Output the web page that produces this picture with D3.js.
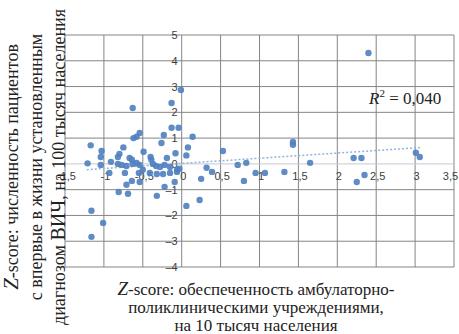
<!DOCTYPE html>
<meta charset="utf-8">
<style>
body { margin: 0; background: #fff; }
svg { display: block; }
.tick text { font-family: "Liberation Sans", sans-serif; font-size: 11px; fill: #404040; }
.title { font-family: "Liberation Serif", serif; font-size: 18px; fill: #222; }
</style>
<svg width="459" height="334"></svg>
<script src="https://d3js.org/d3.v7.min.js"></script>
<script>

// points: [x, y]
var points = [
  [2.4, 4.3], [-0.01, 2.87], [-0.13, 2.36], [-0.63, 2.17],
  [-0.13, 1.40], [-0.04, 1.40], [-0.54, 1.2], [-0.58, 1.05], [-0.62, 1.0],
  [-0.23, 1.12], [0.14, 1.05], [-0.26, 0.81], [-1.17, 0.72], [-1.03, 0.5],
  [-0.75, 0.64], [-0.49, 0.47], [0.08, 0.64], [0.53, 0.5], [-0.08, 0.41],
  [-1.04, 0.27], [-0.8, 0.39], [-0.82, 0.27], [-0.67, 0.23], [-0.4, 0.27],
  [-0.19, 0.23], [0.06, 0.33], [1.43, 0.85], [1.43, 0.74], [2.21, 0.23],
  [2.31, 0.23], [3.01, 0.43], [3.06, 0.27], [1.65, 0.04], [0.72, -0.04],
  [0.83, 0.04], [0.8, -0.66], [0.95, -0.35], [1.07, -0.35], [1.32, -0.31],
  [2.35, -0.43], [2.25, -0.7], [-1.21, 0.02], [-1.04, -0.04], [-0.91, 0.08],
  [-0.82, 0.0], [-0.77, -0.04], [-0.71, -0.08], [-0.63, 0.0], [-0.64, 0.16],
  [-0.58, 0.04], [-0.54, -0.04], [-0.5, -0.23], [-0.37, 0.0], [-0.33, -0.08],
  [-0.28, -0.12], [-0.22, -0.04], [-0.15, -0.12], [-0.06, -0.23], [-0.39, 0.16],
  [-0.93, -0.35], [-0.73, -0.35], [-0.55, -0.35], [-0.41, -0.35], [-0.32, -0.39],
  [-0.24, -0.39], [-0.15, -0.35], [-0.06, -0.31], [-0.03, -0.19], [-0.64, -0.66],
  [-0.71, -0.81], [-0.54, -0.7], [-0.81, -1.09], [-0.69, -1.16], [-0.22, -0.89],
  [-0.09, -0.7], [-0.32, -1.24], [0.25, -0.58], [0.32, -0.15], [0.39, -0.31],
  [0.06, -1.63], [0.23, -1.4], [-1.16, -1.82], [-1.01, -2.29], [-1.16, -2.83]
]

var xTicks = [-1.5, -1, -0.5, 0, 0.5, 1, 1.5, 2, 2.5, 3, 3.5]
var yTicks = [-4, -3, -2, -1, 0, 1, 2, 3, 4, 5]

// linear trend as drawn in the picture
var trendX = [-1.22, 3.06]
var trendSlope = 0.2,
    trendIntercept = 0.02
var r2Label = "0,040"

var xTitle = ["обеспеченность амбулаторно-", "поликлиническими учреждениями,", "на 10 тысяч населения"]
var yTitle = ["численность пациентов", "с впервые в жизни установленным", "диагнозом ВИЧ,  на 100 тысяч населения"]

var svg = d3.select("svg")

var x = d3.scaleLinear().domain([-1.5, 3.5]).range([65, 454]),
    y = d3.scaleLinear().domain([-4, 5]).range([267, 35])

// grid
svg.append("g").selectAll("line")
  .data(xTicks).enter().append("line")
  .attr("x1", function(d) { return x(d) }).attr("x2", function(d) { return x(d) })
  .attr("y1", y(5)).attr("y2", y(-4))
  .style("stroke", "#858585").style("stroke-width", 1)

svg.append("g").selectAll("line")
  .data(yTicks.filter(function(d) { return d !== 0 })).enter().append("line")
  .attr("x1", x(-1.5)).attr("x2", x(3.5))
  .attr("y1", function(d) { return y(d) }).attr("y2", function(d) { return y(d) })
  .style("stroke", "#858585").style("stroke-width", 1)

// zero axis, lighter
svg.append("line")
  .attr("x1", x(-1.5)).attr("x2", x(3.5))
  .attr("y1", y(0)).attr("y2", y(0))
  .style("stroke", "#c4c8d0").style("stroke-width", 1)

// axes labels crossing at zero
var xAxis = d3.axisBottom(x).tickValues(xTicks).tickSize(0).tickPadding(8)
  .tickFormat(function(d) { return String(d).replace(".", ",") })
var xg = svg.append("g").attr("transform", "translate(1," + y(0) + ")").call(xAxis)
xg.select(".domain").remove()
xg.selectAll(".tick text").attr("dx", function(d) { return d === 3.5 ? -5 : 0 })

var yAxis = d3.axisLeft(y).tickValues(yTicks).tickSize(0).tickPadding(4)
  .tickFormat(function(d) { return d < 0 ? "–" + (-d) : d })
var yg = svg.append("g").attr("transform", "translate(" + x(0) + ",0)").call(yAxis)
yg.select(".domain").remove()

// trend line
svg.append("line")
  .attr("x1", x(trendX[0])).attr("y1", y(trendSlope * trendX[0] + trendIntercept))
  .attr("x2", x(trendX[1])).attr("y2", y(trendSlope * trendX[1] + trendIntercept))
  .style("stroke", "#8fb3dc").style("stroke-width", 1.5)
  .style("stroke-dasharray", "2,2")

// points
svg.append("g").selectAll("circle")
  .data(points).enter().append("circle")
  .attr("cx", function(d) { return x(d[0]) })
  .attr("cy", function(d) { return y(d[1]) })
  .attr("r", 3.2)
  .style("fill", "#4f7fc0")
  .style("fill-opacity", 0.9)

// R^2
var r2 = svg.append("text").attr("class", "title")
  .attr("x", 369).attr("y", 104).style("font-size", "17px")
r2.append("tspan").style("font-style", "italic").text("R")
r2.append("tspan").attr("dy", -7).style("font-size", "11px").text("2")
r2.append("tspan").attr("dy", 7).text(" = " + r2Label)

// x title
var xt = svg.append("g").attr("transform", "translate(256,0)")
xTitle.forEach(function(line, i) {
  var t = xt.append("text").attr("class", "title").style("font-size", "17px")
    .attr("text-anchor", "middle").attr("y", 295 + i * 18)
  if (i === 0) {
    t.append("tspan").style("font-style", "italic").style("font-size", "19px").text("Z")
    t.append("tspan").text("-score: ")
  }
  t.append("tspan").text(line)
})

// y title, rotated
var yt = svg.append("g").attr("transform", "translate(0,167) rotate(-90)")
yTitle.forEach(function(line, i) {
  var t = yt.append("text").attr("class", "title")
    .attr("text-anchor", "middle").attr("y", 18 + i * 23.5)
  if (i === 0) {
    t.append("tspan").style("font-style", "italic").style("font-size", "21px").text("Z")
    t.append("tspan").text("-score: ")
    t.append("tspan").text(line)
  } else if (i === 2) {
    t.append("tspan").text("диагнозом ")
    t.append("tspan").style("font-size", "20px").text("ВИЧ")
    t.append("tspan").text(",  на 100 тысяч населения")
  } else {
    t.append("tspan").text(line)
  }
})

</script>
</html>
